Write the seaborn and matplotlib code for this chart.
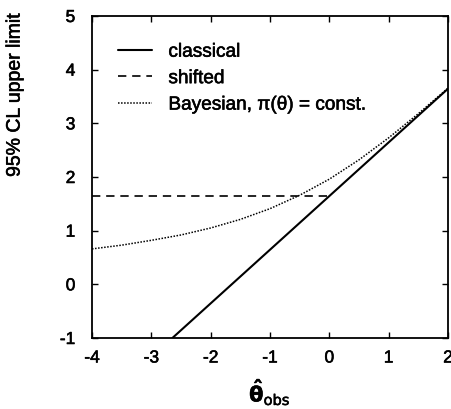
import matplotlib
matplotlib.use("Agg")
import matplotlib.pyplot as plt
import matplotlib.patheffects as pe
import seaborn as sns

# Data
classical_x = [-2.645, 2.0]
classical_y = [-1.0, 3.645]
shifted_x = [-4.0, 0.0]
shifted_y = [1.645, 1.645]
bayes_x = [-4.0, -3.5, -3.0, -2.5, -2.0, -1.5, -1.0, -0.5, 0.0, 0.5, 1.0, 1.5, 2.0]
bayes_y = [0.66, 0.73, 0.82, 0.92, 1.05, 1.21, 1.41, 1.66, 1.96, 2.32, 2.73, 3.18, 3.656]
x_ticks = [-4, -3, -2, -1, 0, 1, 2]
y_ticks = [-1, 0, 1, 2, 3, 4, 5]

sns.set_theme(style="ticks")
plt.rcParams['font.family'] = ['Liberation Sans', 'DejaVu Sans']
plt.rcParams['mathtext.fontset'] = 'dejavusans'

fig = plt.figure(figsize=(4.52, 4.09), dpi=100)
ax = fig.add_axes([92/452, 1-338/409, (448-92)/452, (338-16)/409])

sns.lineplot(x=classical_x, y=classical_y, ax=ax, color='black', lw=1.5,
             linestyle='-', label='classical')
sns.lineplot(x=shifted_x, y=shifted_y, ax=ax, color='black', lw=1.2,
             label='shifted')
ax.lines[-1].set_dashes([5, 3.5])
sns.lineplot(x=bayes_x, y=bayes_y, ax=ax, color='black', lw=1.1,
             label='Bayesian, π(θ) = const.')
ax.lines[-1].set_dashes([1, 1])

ax.set_xlim(-4, 2)
ax.set_ylim(-1, 5)
ax.set_xticks(x_ticks)
ax.set_yticks(y_ticks)
ax.set_xticklabels([str(t) for t in x_ticks])
ax.set_yticklabels([str(t) for t in y_ticks])
ax.tick_params(direction='in', length=4, width=1, top=True, right=True,
               labelsize=12.5, colors='black')
ax.tick_params(axis='y', pad=12)
ax.tick_params(axis='x', pad=9)
for s in ax.spines.values():
    s.set_linewidth(1.3)
    s.set_color('black')

ax.set_ylabel('95% CL upper limit', fontsize=14, color='black')
ax.yaxis.set_label_coords(-0.216, 0.755)
ax.yaxis.label.set_verticalalignment('center')
ax.yaxis.label.set_horizontalalignment('center')

ax.set_xlabel(r'$\mathbf{\hat{\theta}}_{\mathrm{obs}}$', fontsize=15, color='black')
ax.xaxis.set_label_coords(0.5, -0.168)
ax.xaxis.label.set_verticalalignment('center')

leg = ax.legend(loc='upper left', frameon=False,
                prop={'size': 13.7},
                bbox_to_anchor=(0.073, 0.915), borderaxespad=0, borderpad=0,
                handlelength=1.8, handletextpad=0.85, labelspacing=0.48)

stroke = [pe.withStroke(linewidth=0.4, foreground='black')]
texts = list(leg.get_texts()) + ax.get_xticklabels() + ax.get_yticklabels() + \
    [ax.xaxis.label, ax.yaxis.label]
for t in texts:
    t.set_color('black')
    t.set_path_effects(stroke)

fig.savefig('out.png', dpi=100)
